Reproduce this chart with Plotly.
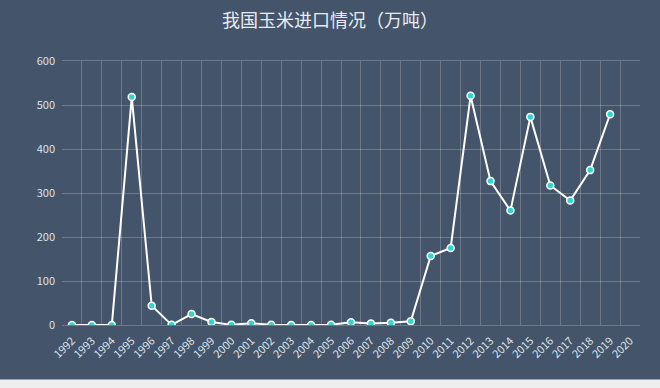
import plotly.graph_objects as go

years = [str(y) for y in range(1992, 2021)]
imports = [0.1, 0.1, 0.1, 518, 44, 0.3, 25, 7, 0.3, 4, 0.8, 0.1, 0.2, 0.4,
           6.5, 3.5, 5, 8.4, 157, 175, 521, 327, 260, 473, 317, 283, 352, 479, None]
y_ticks = [0, 100, 200, 300, 400, 500, 600]

BG = "#44546A"
TXT = "#DCE1E7"
GRID = "rgba(255,255,255,0.22)"

fig = go.Figure()
fig.add_trace(go.Scatter(
    x=years, y=imports, mode="lines+markers",
    line=dict(color="white", width=2),
    marker=dict(color="#2FD6D0", size=7, line=dict(color="white", width=1.5)),
    connectgaps=False, showlegend=False,
))

fig.update_layout(
    width=660, height=388,
    paper_bgcolor=BG, plot_bgcolor=BG,
    margin=dict(l=62, r=20, t=61, b=63),
    title=dict(text="我国玉米进口情况（万吨）", x=0.5, xanchor="center", y=0.947, yanchor="middle",
               font=dict(family="Noto Sans CJK SC", size=18, color="#E8ECF0")),
    font=dict(family="Noto Sans CJK SC", size=11, color=TXT),
    xaxis=dict(type="category", categoryorder="array", categoryarray=years,
               tickson="boundaries", showgrid=True, gridcolor=GRID, gridwidth=1,
               tickangle=-45, ticks="", zeroline=False,
               showline=True, linecolor=GRID, mirror=True,
               range=[-0.5, len(years) - 0.5], ticklabelstandoff=4,
               tickfont=dict(size=11, color=TXT)),
    yaxis=dict(range=[0, 600], tickvals=y_ticks, showgrid=True, gridcolor=GRID,
               zeroline=False, showline=False, ticks="", ticklen=0,
               ticklabelstandoff=6,
               tickfont=dict(size=11, color=TXT)),
    shapes=[dict(type="rect", xref="paper", yref="paper", x0=-1, x1=2,
                 y0=-0.5, y1=-0.206, fillcolor="#EEEEEE", line=dict(width=0), layer="above")],
)

fig.write_html("out.html", config={"displayModeBar": False},
               post_script="document.body.style.margin='0';document.body.style.overflow='hidden';")
